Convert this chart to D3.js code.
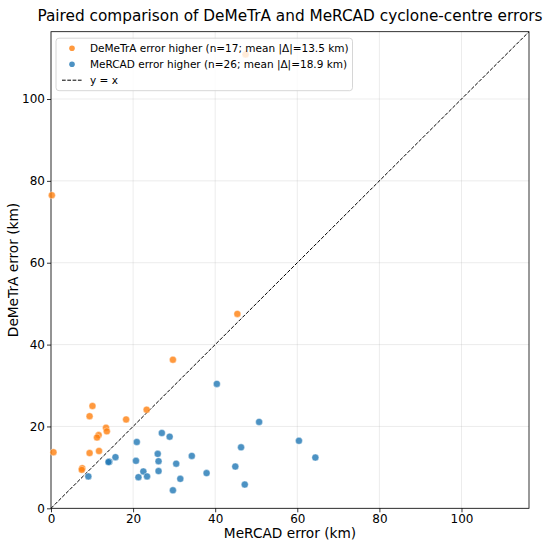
<!DOCTYPE html>
<html>
<head>
<meta charset="utf-8" />
<title>Paired comparison</title>
<style>
    body { margin: 0; background: #fff; }
    text { font-family: "DejaVu Sans", sans-serif; }
</style>
</head>
<body>
<div id="container"></div>
<script src="https://cdn.jsdelivr.net/npm/d3@7"></script>
<script>
    // DeMeTrA higher (orange): [MeRCAD error, DeMeTrA error]
    const demetraX = [0.2, 47.4, 45.4, 29.7, 10.1, 9.4, 23.3, 18.3, 13.4, 13.6, 11.6, 11.2, 0.6, 9.4, 11.7, 7.6, 7.5]
    const demetraY = [76.5, 110.9, 47.5, 36.3, 25.0, 22.5, 24.1, 21.7, 19.7, 18.8, 17.9, 17.3, 13.7, 13.5, 14.0, 9.8, 9.4]
    // MeRCAD higher (blue)
    const mercadX = [20.9, 27.0, 28.9, 15.7, 14.2, 14.0, 26.0, 26.2, 20.7, 34.3, 30.5, 22.5, 26.2, 21.3, 23.4, 31.5, 29.7, 9.1,
                     40.4, 50.7, 60.4, 46.3, 64.4, 44.9, 37.9, 47.2]
    const mercadY = [16.2, 18.4, 17.5, 12.5, 11.4, 11.3, 13.3, 11.5, 11.6, 12.8, 10.9, 9.0, 9.1, 7.6, 7.8, 7.2, 4.4, 7.8,
                     30.4, 21.1, 16.5, 14.9, 12.4, 10.2, 8.6, 5.8]
    const ticks = [0, 20, 40, 60, 80, 100]
    const legendLabels = [
        'DeMeTrA error higher (n=17; mean |Δ|=13.5 km)',
        'MeRCAD error higher (n=26; mean |Δ|=18.9 km)',
        'y = x'
    ]

    const orange = '#ff7f0e', blue = '#1f77b4'
    const margin = { top: 31.7, right: 21, bottom: 39.7, left: 51 }
    const W = 550, H = 548
    const width = W - margin.left - margin.right
    const height = H - margin.top - margin.bottom

    const lim = d3.max(demetraX.concat(demetraY, mercadX, mercadY)) * 1.05

    const svg = d3.select('#container').append('svg').attr('width', W).attr('height', H)
    const chart = svg.append('g').attr('transform', `translate(${margin.left},${margin.top})`)

    const xScale = d3.scaleLinear().domain([0, lim]).range([0, width])
    const yScale = d3.scaleLinear().domain([0, lim]).range([height, 0])

    // grid
    chart.append('g').selectAll('line.gx').data(ticks).join('line')
        .attr('x1', d => xScale(d)).attr('x2', d => xScale(d))
        .attr('y1', 0).attr('y2', height)
        .attr('stroke', '#b0b0b0').attr('stroke-opacity', 0.3).attr('stroke-width', 0.8)
    chart.append('g').selectAll('line.gy').data(ticks).join('line')
        .attr('y1', d => yScale(d)).attr('y2', d => yScale(d))
        .attr('x1', 0).attr('x2', width)
        .attr('stroke', '#b0b0b0').attr('stroke-opacity', 0.3).attr('stroke-width', 0.8)

    // axes
    const xAxis = d3.axisBottom(xScale).tickValues(ticks).tickSize(4).tickPadding(2)
    const yAxis = d3.axisLeft(yScale).tickValues(ticks).tickSize(4).tickPadding(2)
    const gx = chart.append('g').attr('transform', `translate(0,${height})`).call(xAxis)
    const gy = chart.append('g').call(yAxis)
    ;[gx, gy].forEach(g => {
        g.select('.domain').remove()
        g.selectAll('text').style('font-size', '12px').attr('fill', '#000')
        g.selectAll('line').attr('stroke', '#000').attr('stroke-width', 0.8)
    })

    // frame
    chart.append('rect').attr('width', width).attr('height', height)
        .attr('fill', 'none').attr('stroke', '#000').attr('stroke-width', 0.8)

    // y = x
    chart.append('line')
        .attr('x1', xScale(0)).attr('y1', yScale(0))
        .attr('x2', xScale(lim)).attr('y2', yScale(lim))
        .attr('stroke', '#000').attr('stroke-width', 1).attr('stroke-dasharray', '3.7,1.6')

    const orangePts = demetraX.map((x, i) => [x, demetraY[i]])
    const bluePts = mercadX.map((x, i) => [x, mercadY[i]])

    chart.append('g').selectAll('circle').data(orangePts).join('circle')
        .attr('cx', d => xScale(d[0])).attr('cy', d => yScale(d[1])).attr('r', 3.5)
        .attr('fill', orange).attr('fill-opacity', 0.8)
        .attr('stroke', '#fff').attr('stroke-width', 0.4)
    chart.append('g').selectAll('circle').data(bluePts).join('circle')
        .attr('cx', d => xScale(d[0])).attr('cy', d => yScale(d[1])).attr('r', 3.5)
        .attr('fill', blue).attr('fill-opacity', 0.8)
        .attr('stroke', '#fff').attr('stroke-width', 0.4)

    // legend
    const lg = chart.append('g').attr('transform', 'translate(5,6.5)')
    lg.append('rect').attr('width', 296.5).attr('height', 52.5).attr('rx', 3)
        .attr('fill', '#fff').attr('fill-opacity', 0.8)
        .attr('stroke', '#ccc').attr('stroke-width', 0.8)
    legendLabels.forEach((t, i) => {
        const y = 10 + i * 16
        if (i < 2) {
            lg.append('circle').attr('cx', 16).attr('cy', y).attr('r', 2.8)
                .attr('fill', i === 0 ? orange : blue).attr('fill-opacity', 0.8)
        } else {
            lg.append('line').attr('x1', 6).attr('x2', 26).attr('y1', y).attr('y2', y)
                .attr('stroke', '#000').attr('stroke-width', 1).attr('stroke-dasharray', '3.7,1.6')
        }
        lg.append('text').attr('x', 34).attr('y', y).attr('dy', '0.35em')
            .style('font-size', '10.5px').text(t)
    })

    // titles
    svg.append('text').attr('x', margin.left + width / 2).attr('y', 21)
        .attr('text-anchor', 'middle').style('font-size', '15.3px')
        .text('Paired comparison of DeMeTrA and MeRCAD cyclone-centre errors')
    svg.append('text').attr('x', margin.left + width / 2).attr('y', 538)
        .attr('text-anchor', 'middle').style('font-size', '13.7px')
        .text('MeRCAD error (km)')
    svg.append('text').attr('transform', `translate(18,${margin.top + height / 2}) rotate(-90)`)
        .attr('text-anchor', 'middle').style('font-size', '13.7px')
        .text('DeMeTrA error (km)')
</script>
</body>
</html>
